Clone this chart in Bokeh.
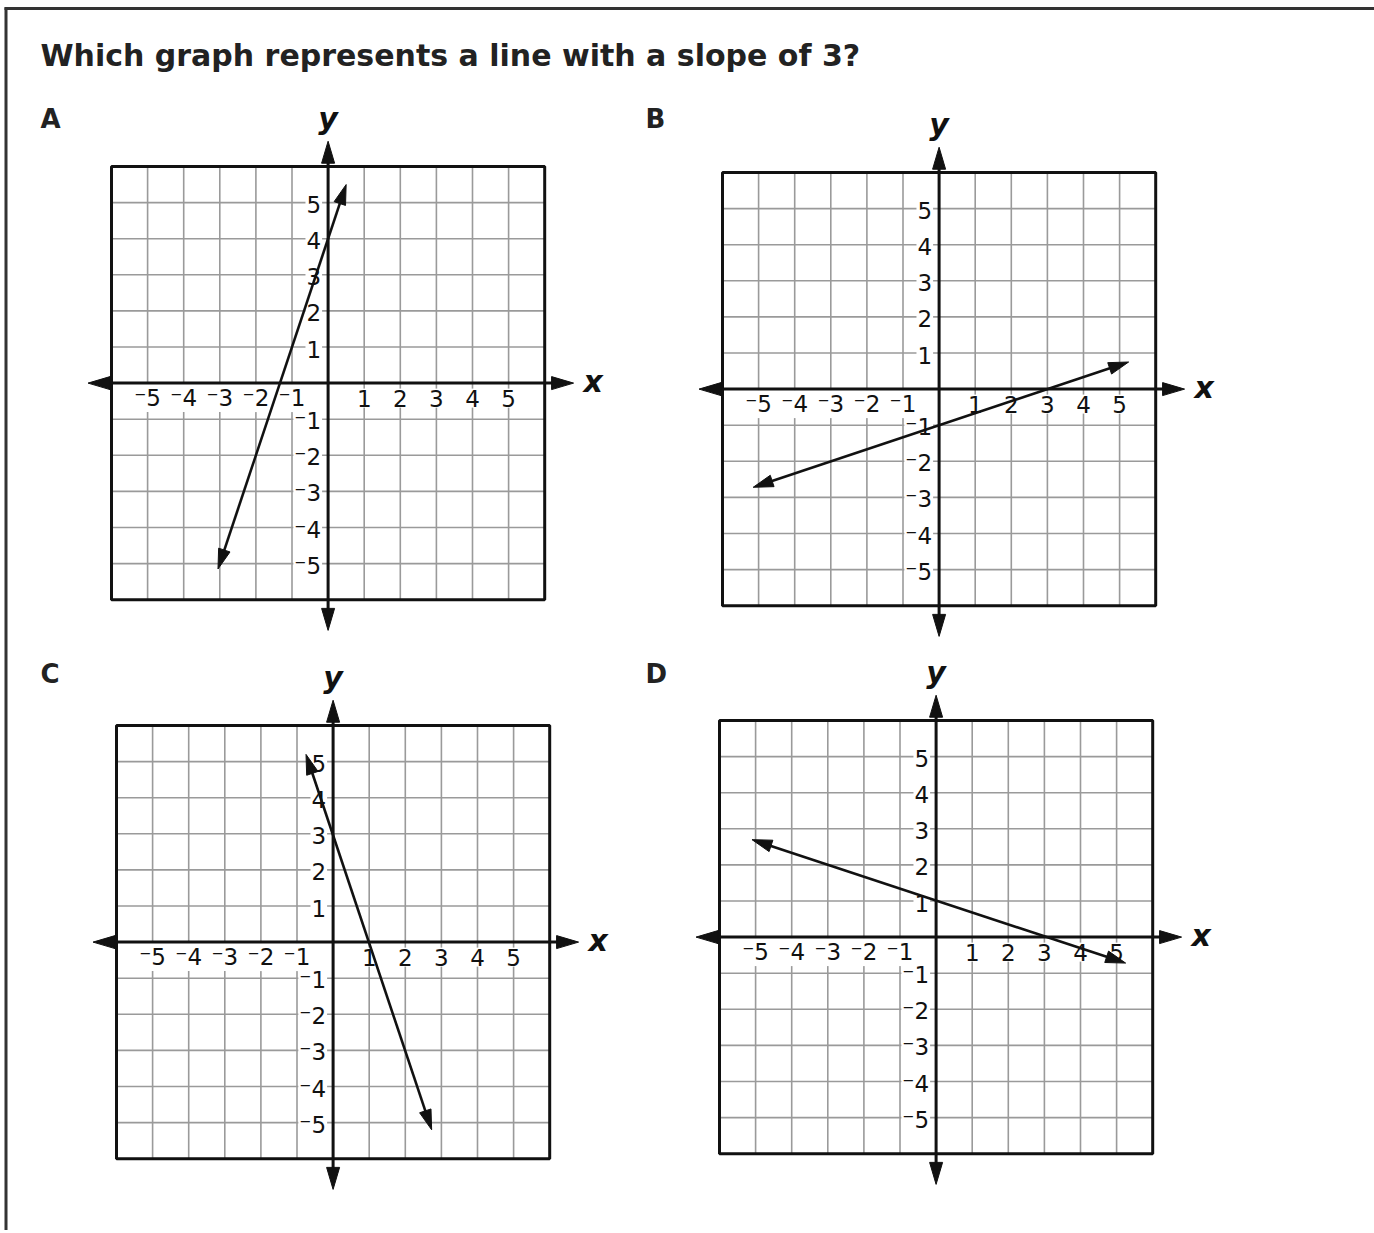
import math
from bokeh.plotting import figure
from bokeh.models import Range1d
from bokeh.core.properties import value
from bokeh.embed import file_html
from bokeh.resources import INLINE

# ---------------- data ----------------
TITLE = "Which graph represents a line with a slope of 3?"
PANELS = ["A", "B", "C", "D"]
TICKS = [-5, -4, -3, -2, -1, 1, 2, 3, 4, 5]
GRID = [-5, -4, -3, -2, -1, 0, 1, 2, 3, 4, 5]
TICK_LABELS = ["\u207b5", "\u207b4", "\u207b3", "\u207b2", "\u207b1", "1", "2", "3", "4", "5"]

# endpoints of the drawn line in each graph (x, y)
A_x = [-3.05, 0.5]
A_y = [-5.15, 5.5]
B_x = [-5.15, 5.25]
B_y = [-2.72, 0.75]
C_x = [-0.75, 2.73]
C_y = [5.2, -5.2]
D_x = [-5.1, 5.25]
D_y = [2.7, -0.72]
LINES = {"A": (A_x, A_y), "B": (B_x, B_y), "C": (C_x, C_y), "D": (D_x, D_y)}

BOX = [-6, 6]
AXIS_X = [-6.65, 6.8]
AXIS_Y = [-6.85, 6.7]

# ---------------- layout (page pixels) ----------------
FIG_W, FIG_H = 1374, 1230
OX, OY = 0, 0
S = 36.1  # pixels per unit
PANEL_BOX = {"A": (111, 166), "B": (722, 172), "C": (116, 725), "D": (719, 720)}
LETTER_POS = {"A": (40, 118), "B": (645, 118), "C": (40, 673), "D": (645, 673)}

FONT = "DejaVu Sans"
INK = "#111111"

p = figure(width=FIG_W, height=FIG_H, output_backend="svg", toolbar_location=None,
           x_range=Range1d(OX, OX + FIG_W), y_range=Range1d(OY + FIG_H, OY),
           x_axis_type=None, y_axis_type=None, min_border=0,
           background_fill_color="white", border_fill_color="white")
p.outline_line_color = None
p.grid.visible = False

# outer border (top and left)
p.segment(x0=[4], y0=[8], x1=[OX + FIG_W], y1=[8], line_color="#333333", line_width=3)
p.segment(x0=[5.5], y0=[7], x1=[5.5], y1=[OY + FIG_H], line_color="#333333", line_width=3)

p.text(x=[40], y=[55], text=[TITLE], text_font=value(FONT), text_font_style="bold",
       text_font_size="30px", text_color="#222222", text_baseline="middle", text_align="left")


def head(tx, ty, fx, fy, length_px=20.0, half_px=6.0):
    dx, dy = tx - fx, ty - fy
    n = math.hypot(dx, dy)
    ux, uy = dx / n, dy / n
    L, H = length_px / S, half_px / S
    bx, by = tx - ux * L, ty - uy * L
    return [tx, bx - uy * H, bx + uy * H], [ty, by + ux * H, by - ux * H], (tx - ux * L * 0.6, ty - uy * L * 0.6)


for name in PANELS:
    L0, T0 = PANEL_BOX[name]
    xr, yr = "x" + name, "y" + name
    p.extra_x_ranges[xr] = Range1d(-6 + (OX - L0) / S, -6 + (OX + FIG_W - L0) / S)
    p.extra_y_ranges[yr] = Range1d(6 - (OY + FIG_H - T0) / S, 6 + (T0 - OY) / S)
    kw = dict(x_range_name=xr, y_range_name=yr)

    # grid
    p.segment(x0=GRID, y0=[BOX[0]] * len(GRID), x1=GRID, y1=[BOX[1]] * len(GRID),
              line_color="#9a9a9a", line_width=1.6, **kw)
    p.segment(x0=[BOX[0]] * len(GRID), y0=GRID, x1=[BOX[1]] * len(GRID), y1=GRID,
              line_color="#9a9a9a", line_width=1.6, **kw)
    # box
    p.quad(left=[BOX[0]], right=[BOX[1]], bottom=[BOX[0]], top=[BOX[1]], fill_color=None,
           line_color=INK, line_width=3, **kw)

    # tick labels
    p.text(x=TICKS, y=[0] * len(TICKS), text=TICK_LABELS, text_font=value(FONT),
           text_font_size="23px", text_color=INK, text_align="center", text_baseline="middle",
           y_offset=15, background_fill_color="white", padding=1, **kw)
    p.text(x=[0] * len(TICKS), y=TICKS, text=TICK_LABELS, text_font=value(FONT),
           text_font_size="23px", text_color=INK, text_align="right", text_baseline="middle",
           x_offset=-6, y_offset=2, background_fill_color="white", padding=1, **kw)

    # axes with arrowheads
    for (x0, y0, x1, y1) in [(AXIS_X[0], 0, AXIS_X[1], 0), (0, AXIS_Y[0], 0, AXIS_Y[1])]:
        hx1, hy1, b1 = head(x1, y1, x0, y0, 22, 6.5)
        hx0, hy0, b0 = head(x0, y0, x1, y1, 22, 6.5)
        p.segment(x0=[b0[0]], y0=[b0[1]], x1=[b1[0]], y1=[b1[1]], line_color=INK, line_width=3, **kw)
        p.patches(xs=[hx0, hx1], ys=[hy0, hy1], fill_color=INK, line_color=INK, line_width=1, **kw)

    # axis names
    p.text(x=[AXIS_X[1]], y=[0], text=["x"], text_font=value(FONT), text_font_style="bold italic",
           text_font_size="30px", text_color=INK, text_align="left", text_baseline="middle",
           x_offset=10, y_offset=-2, **kw)
    p.text(x=[0], y=[6], text=["y"], text_font=value(FONT), text_font_style="bold italic",
           text_font_size="30px", text_color=INK, text_align="center", text_baseline="middle",
           y_offset=-48, **kw)

    # the graphed line with arrows at both ends
    lx, ly = LINES[name]
    hx1, hy1, b1 = head(lx[1], ly[1], lx[0], ly[0], 20, 6)
    hx0, hy0, b0 = head(lx[0], ly[0], lx[1], ly[1], 20, 6)
    p.line(x=[b0[0], b1[0]], y=[b0[1], b1[1]], line_color=INK, line_width=2.6, **kw)
    p.patches(xs=[hx0, hx1], ys=[hy0, hy1], fill_color=INK, line_color=INK, line_width=1, **kw)

    # panel letter
    lx0, ly0 = LETTER_POS[name]
    p.text(x=[lx0], y=[ly0], text=[name], text_font=value(FONT), text_font_style="bold",
           text_font_size="26px", text_color="#222222", text_align="left", text_baseline="middle")

open("out.html", "w").write(file_html(p, INLINE))
